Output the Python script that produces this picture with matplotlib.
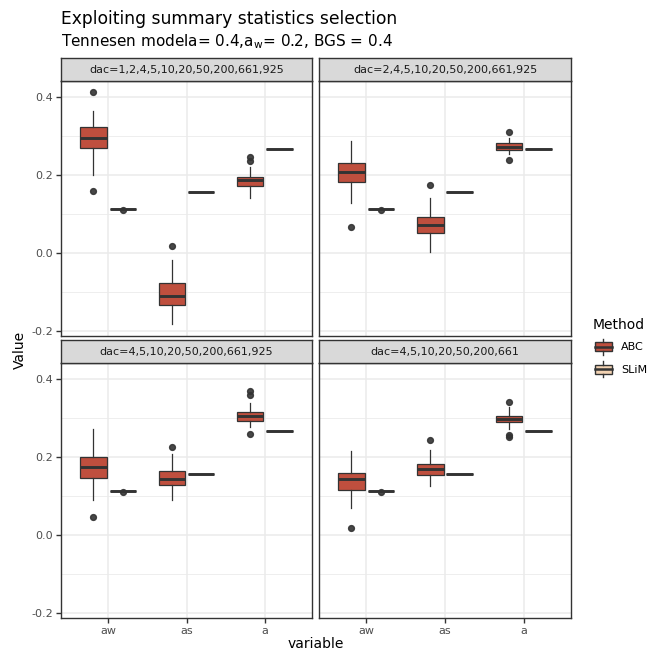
import matplotlib
matplotlib.use("Agg")
import matplotlib.pyplot as plt
import matplotlib.patches as mpatches
import matplotlib.lines as mlines
from matplotlib.legend_handler import HandlerBase

# ---------------- data ----------------
variables = ["aw", "as", "a"]
methods = ["ABC", "SLiM"]
panel_titles = [
    "dac=1,2,4,5,10,20,50,200,661,925",
    "dac=2,4,5,10,20,50,200,661,925",
    "dac=4,5,10,20,50,200,661,925",
    "dac=4,5,10,20,50,200,661",
]
# ABC box stats per panel, per variable: [whislo, q1, med, q3, whishi]
abc_p1 = [[0.199, 0.268, 0.294, 0.322, 0.364],
          [-0.184, -0.135, -0.112, -0.079, -0.019],
          [0.139, 0.170, 0.187, 0.195, 0.220]]
abc_p1_out = [[0.413, 0.157], [0.017], [0.246, 0.234]]
abc_p2 = [[0.128, 0.180, 0.207, 0.229, 0.285],
          [0.001, 0.051, 0.070, 0.091, 0.141],
          [0.253, 0.262, 0.272, 0.280, 0.295]]
abc_p2_out = [[0.065], [0.173], [0.310, 0.237]]
abc_p3 = [[0.089, 0.146, 0.174, 0.200, 0.271],
          [0.088, 0.128, 0.143, 0.164, 0.206],
          [0.275, 0.292, 0.304, 0.314, 0.337]]
abc_p3_out = [[0.044], [0.224], [0.368, 0.357, 0.257]]
abc_p4 = [[0.069, 0.114, 0.142, 0.159, 0.215],
          [0.125, 0.154, 0.168, 0.181, 0.217],
          [0.271, 0.288, 0.297, 0.305, 0.327]]
abc_p4_out = [[0.016], [0.243], [0.340, 0.255, 0.249]]
# SLiM (true simulated values, constant)
slim_values = [0.111, 0.155, 0.265]
slim_out = [[0.109], [], []]

abc_stats = [abc_p1, abc_p2, abc_p3, abc_p4]
abc_out = [abc_p1_out, abc_p2_out, abc_p3_out, abc_p4_out]

# ---------------- style ----------------
ABC_COL = "#BF4F3E"
SLIM_COL = "#F2D2B2"
DARK = "#333333"
TICKCOL = "#4D4D4D"
GRID = "#EBEBEB"

W, H = 649, 652
fig = plt.figure(figsize=(W / 100, H / 100), dpi=100)
fig.patch.set_facecolor("white")


def rect(x0, y0, x1, y1):
    return [x0 / W, 1 - y1 / H, (x1 - x0) / W, (y1 - y0) / H]


panel_px = [(61, 81, 312, 336), (319, 81, 571, 336),
            (61, 363, 312, 618), (319, 363, 571, 618)]
STRIP_H = 23
YLIM = (-0.214, 0.440)
dodge = 0.1875
bw = 0.3375


def make_stats(vals, fl):
    lo, q1, med, q3, hi = vals
    return dict(whislo=lo, q1=q1, med=med, q3=q3, whishi=hi, fliers=fl)


for i, (x0, y0, x1, y1) in enumerate(panel_px):
    ax = fig.add_axes(rect(x0, y0, x1, y1))
    ax.set_xlim(0.4, 3.6)
    ax.set_ylim(*YLIM)
    ax.set_yticks([-0.2, 0.0, 0.2, 0.4])
    ax.set_yticklabels(["-0.2", "0.0", "0.2", "0.4"])
    ax.set_yticks([-0.1, 0.1, 0.3], minor=True)
    ax.set_xticks([1, 2, 3])
    ax.set_xticklabels(variables)
    ax.grid(which="major", color=GRID, lw=1.1)
    ax.grid(which="minor", axis="y", color=GRID, lw=0.6)
    ax.set_axisbelow(True)

    common = dict(widths=bw, patch_artist=True, showcaps=False,
                  manage_ticks=False,
                  boxprops=dict(edgecolor=DARK, linewidth=0.9),
                  medianprops=dict(color=DARK, linewidth=2.1, solid_capstyle="butt"),
                  whiskerprops=dict(color=DARK, linewidth=0.9),
                  flierprops=dict(marker="o", markerfacecolor=DARK,
                                  markeredgecolor=DARK, markersize=4.2,
                                  alpha=0.9))
    st_abc = [make_stats(v, f) for v, f in zip(abc_stats[i], abc_out[i])]
    b1 = ax.bxp(st_abc, positions=[k + 1 - dodge for k in range(3)], **common)
    for p in b1["boxes"]:
        p.set_facecolor(ABC_COL)
    st_slim = [make_stats([v] * 5, f) for v, f in zip(slim_values, slim_out)]
    b2 = ax.bxp(st_slim, positions=[k + 1 + dodge for k in range(3)], **common)
    for p in b2["boxes"]:
        p.set_facecolor(SLIM_COL)

    for s in ax.spines.values():
        s.set_color(DARK)
        s.set_linewidth(1.0)
    ax.tick_params(which="major", length=3.5, width=1.0, color=DARK,
                   labelcolor=TICKCOL, labelsize=8, pad=2)
    ax.tick_params(which="minor", length=0)
    if i % 2 == 1:
        ax.tick_params(axis="y", which="major", length=0, labelleft=False)
    if i < 2:
        ax.tick_params(axis="x", which="major", length=0, labelbottom=False)

    # strip
    sax = fig.add_axes(rect(x0, y0 - STRIP_H, x1, y0))
    sax.set_facecolor("#D9D9D9")
    sax.set_xticks([])
    sax.set_yticks([])
    for s in sax.spines.values():
        s.set_color(DARK)
        s.set_linewidth(1.0)
    sax.text(0.5, 0.48, panel_titles[i], ha="center", va="center",
             fontsize=8, color="#1A1A1A", transform=sax.transAxes)

# titles
fig.text(61 / W, 1 - 24 / H, "Exploiting summary statistics selection",
         fontsize=12.3, color="black", ha="left", va="baseline")
fig.text(61 / W, 1 - 46 / H,
         r"Tennesen modela= 0.4,a$_{\mathregular{w}}$= 0.2, BGS = 0.4",
         fontsize=11, color="black", ha="left", va="baseline")
fig.text(316 / W, 1 - 648 / H, "variable", fontsize=10, ha="center",
         va="baseline")
fig.text(20 / W, 1 - 350 / H, "Value", fontsize=10, ha="center",
         va="center", rotation=90)


class BoxHandler(HandlerBase):
    def create_artists(self, legend, orig_handle, xdescent, ydescent,
                       width, height, fontsize, trans):
        fc = orig_handle.get_facecolor()
        x0, y0 = -xdescent, -ydescent
        box = mpatches.Rectangle((x0 + 0.05 * width, y0 + 0.22 * height),
                                 0.9 * width, 0.56 * height, facecolor=fc,
                                 edgecolor=DARK, lw=1.0, transform=trans)
        med = mlines.Line2D([x0 + 0.05 * width, x0 + 0.95 * width],
                            [y0 + 0.5 * height] * 2, color=DARK, lw=1.8,
                            transform=trans)
        w1 = mlines.Line2D([x0 + 0.5 * width] * 2, [y0, y0 + 0.22 * height],
                           color=DARK, lw=1.0, transform=trans)
        w2 = mlines.Line2D([x0 + 0.5 * width] * 2,
                           [y0 + 0.78 * height, y0 + height],
                           color=DARK, lw=1.0, transform=trans)
        return [box, med, w1, w2]


# legend title placed as text, keys via legend
fig.text(593 / W, 1 - 329 / H, "Method", fontsize=10, ha="left",
         va="baseline")
handles = [mpatches.Patch(facecolor=ABC_COL), mpatches.Patch(facecolor=SLIM_COL)]
leg = fig.legend(handles=handles, labels=methods,
                 handler_map={mpatches.Patch: BoxHandler()},
                 loc="upper left",
                 bbox_to_anchor=(594 / W, 1 - 339 / H), frameon=False,
                 handlelength=1.7, handleheight=1.8, handletextpad=0.75,
                 labelspacing=0.6, fontsize=8,
                 borderaxespad=0, borderpad=0)

fig.savefig("out.png", dpi=100, facecolor="white")
